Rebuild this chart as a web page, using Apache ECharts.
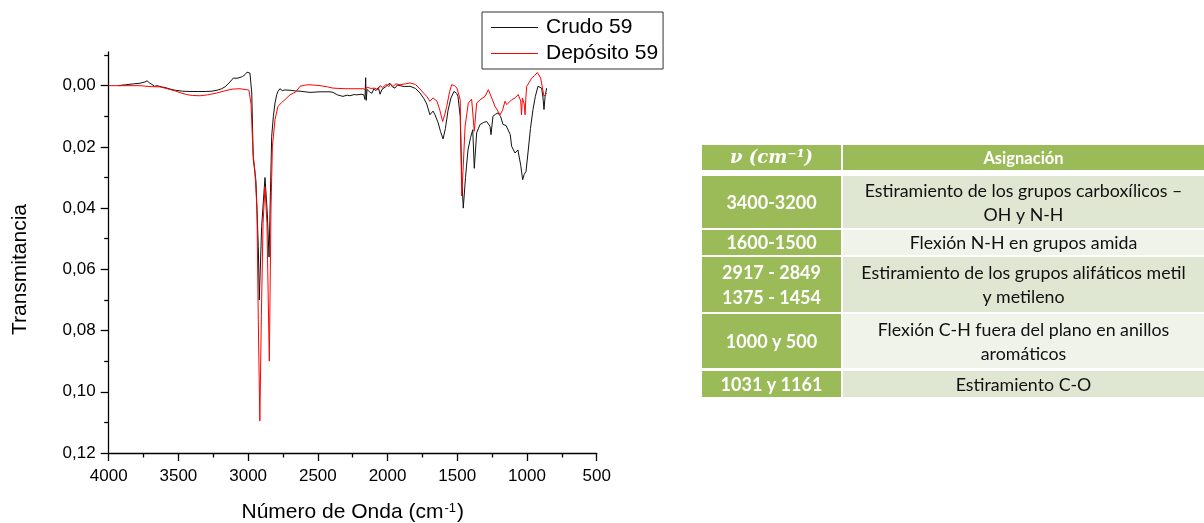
<!DOCTYPE html>
<html>
<head>
<meta charset="utf-8">
<script src="https://cdn.jsdelivr.net/npm/echarts@6.0.0/dist/echarts.min.js"></script>
<style>
  html, body { margin: 0; padding: 0; background: #fff; }
  #main { width: 1204px; height: 523px; }
</style>
</head>
<body>
<div id="main"></div>
<script>
// espectro IR: [número de onda, transmitancia]
var crudo59 = [
  [3933,0.0000],[3880,-0.0003],[3820,-0.0006],[3776,-0.0008],[3740,-0.0012],[3725,-0.0016],[3705,-0.0008],
  [3690,-0.0004],[3670,0.0002],[3654,0.0000],[3620,0.0004],[3596,0.0006],[3560,0.0011],[3524,0.0015],
  [3470,0.0018],[3417,0.0019],[3360,0.0019],[3309,0.0019],[3260,0.0018],[3223,0.0015],[3190,0.0010],
  [3166,0.0004],[3130,-0.0012],[3106,-0.0025],[3080,-0.0024],[3058,-0.0027],[3040,-0.0030],[3022,-0.0036],
  [3008,-0.0044],[2999,-0.0050],[2987,-0.0041],[2974,0.0024],[2963,0.0240],[2944,0.0310],[2927,0.0525],
  [2920,0.0700],[2903,0.0460],[2879,0.0300],[2862,0.0420],[2850,0.0560],[2840,0.0350],[2831,0.0165],
  [2819,0.0100],[2807,0.0056],[2795,0.0030],[2786,0.0019],[2772,0.0010],[2755,0.0016],[2736,0.0014],
  [2700,0.0015],[2660,0.0017],[2628,0.0018],[2556,0.0022],[2484,0.0020],[2413,0.0020],[2391,0.0022],
  [2360,0.0030],[2320,0.0035],[2290,0.0031],[2270,0.0033],[2240,0.0029],[2220,0.0030],[2190,0.0028],
  [2170,0.0030],[2162,0.0045],[2157,-0.0026],[2153,0.0048],[2147,0.0012],[2130,0.0020],[2112,0.0025],
  [2098,0.0010],[2083,0.0016],[2066,0.0006],[2054,0.0028],[2040,0.0012],[2018,0.0005],[2000,-0.0002],
  [1983,-0.0008],[1965,0.0004],[1947,0.0008],[1930,-0.0002],[1911,0.0000],[1880,0.0003],[1839,0.0002],
  [1800,0.0009],[1767,0.0024],[1740,0.0042],[1719,0.0060],[1696,0.0095],[1674,0.0083],[1660,0.0095],
  [1638,0.0120],[1620,0.0150],[1602,0.0174],[1585,0.0140],[1566,0.0080],[1545,0.0040],[1524,0.0019],
  [1505,0.0025],[1495,0.0035],[1479,0.0100],[1468,0.0300],[1457,0.0400],[1441,0.0300],[1423,0.0210],
  [1405,0.0170],[1389,0.0144],[1378,0.0270],[1361,0.0154],[1337,0.0127],[1310,0.0120],[1289,0.0117],
  [1265,0.0133],[1258,0.0160],[1244,0.0100],[1225,0.0093],[1208,0.0089],[1190,0.0100],[1172,0.0127],
  [1150,0.0130],[1136,0.0133],[1120,0.0160],[1110,0.0198],[1086,0.0220],[1065,0.0210],[1045,0.0260],
  [1031,0.0307],[1020,0.0290],[1007,0.0280],[993,0.0220],[975,0.0140],[957,0.0078],[940,0.0035],
  [921,0.0002],[908,0.0004],[895,0.0008],[885,0.0040],[878,0.0078],[870,0.0035],[859,0.0008]
];
var deposito59 = [
  [4000,0.0000],[3900,0.0000],[3776,0.0000],[3704,0.0003],[3632,0.0004],[3580,0.0010],[3524,0.0017],
  [3480,0.0024],[3441,0.0029],[3400,0.0032],[3345,0.0033],[3290,0.0030],[3225,0.0024],[3160,0.0016],
  [3109,0.0011],[3058,0.0010],[3030,0.0012],[3010,0.0013],[2994,0.0015],[2979,0.0060],[2965,0.0220],
  [2951,0.0280],[2937,0.0400],[2927,0.0770],[2916,0.1095],[2905,0.0750],[2893,0.0450],[2879,0.0330],
  [2865,0.0450],[2848,0.0900],[2836,0.0400],[2826,0.0200],[2807,0.0110],[2786,0.0068],[2760,0.0055],
  [2736,0.0046],[2700,0.0030],[2657,0.0020],[2628,0.0002],[2590,-0.0002],[2556,-0.0003],[2484,0.0000],
  [2430,0.0004],[2391,0.0008],[2305,0.0010],[2240,0.0010],[2176,0.0010],[2160,0.0012],[2147,0.0005],
  [2120,0.0009],[2090,0.0008],[2070,0.0014],[2054,0.0000],[2035,0.0006],[2010,-0.0004],[1990,0.0003],
  [1983,-0.0005],[1960,0.0002],[1940,-0.0006],[1911,-0.0003],[1870,-0.0006],[1839,-0.0009],[1800,-0.0004],
  [1767,0.0011],[1740,0.0025],[1719,0.0035],[1696,0.0051],[1674,0.0040],[1645,0.0051],[1625,0.0080],
  [1605,0.0117],[1590,0.0095],[1576,0.0068],[1555,0.0020],[1540,-0.0003],[1520,0.0000],[1502,0.0008],
  [1479,0.0046],[1468,0.0360],[1459,0.0280],[1444,0.0133],[1421,0.0057],[1397,0.0044],[1378,0.0149],
  [1361,0.0057],[1337,0.0046],[1301,0.0035],[1277,0.0013],[1253,0.0040],[1229,0.0068],[1193,0.0095],
  [1175,0.0080],[1158,0.0051],[1145,0.0062],[1134,0.0062],[1110,0.0046],[1085,0.0040],[1063,0.0029],
  [1045,0.0050],[1039,0.0095],[1033,0.0040],[1027,0.0035],[1020,0.0060],[1014,0.0095],[1008,0.0040],
  [1002,0.0002],[985,-0.0010],[966,-0.0025],[945,-0.0033],[926,-0.0043],[915,-0.0038],[902,-0.0025],
  [890,0.0005],[878,0.0035],[868,0.0030],[859,0.0024]
];
var seriesNames = ['Crudo 59', 'Depósito 59'];
var yTicks = [0, 0.02, 0.04, 0.06, 0.08, 0.10, 0.12];
var yMinorTicks = [-0.01, 0.01, 0.03, 0.05, 0.07, 0.09, 0.11];

// tabla de asignaciones
var tableHeader = ['ν (cm⁻¹)', 'Asignación'];
var bandRanges = ['3400-3200', '1600-1500', '2917 - 2849\n1375 - 1454', '1000 y 500', '1031 y 1161'];
var bandAssignments = [
  'Estiramiento de los grupos carboxílicos –\nOH y N-H',
  'Flexión N-H en grupos amida',
  'Estiramiento de los grupos alifáticos metil\ny metileno',
  'Flexión C-H fuera del plano en anillos\naromáticos',
  'Estiramiento C-O'
];

var chart = echarts.init(document.getElementById('main'));
var FONT = 'Liberation Sans, Arial, sans-serif';
var TFONT = 'Lato, Carlito, sans-serif';
var GREEN = '#9bbb59';

// geometria de la tabla
var colX = [702, 843], colW = [139, 361];
var headTop = 145, headH = 25;
var rowTops = [176, 230, 257, 314, 371], rowHs = [52, 25, 55, 54, 26];
var rowFill = ['#dfe7d2', '#eff3ea'];

var graphics = [];
for (var c = 0; c < 2; c++) {
  graphics.push({ type: 'rect', shape: { x: colX[c], y: headTop, width: colW[c], height: headH }, style: { fill: GREEN } });
  graphics.push({
    type: 'text', x: colX[c] + colW[c] / 2, y: headTop + headH / 2 + 1,
    style: {
      text: tableHeader[c], fill: '#fff', align: 'center', verticalAlign: 'middle',
      fontSize: c === 0 ? 18 : 16.5, fontWeight: 'bold',
      fontStyle: c === 0 ? 'italic' : 'normal',
      fontFamily: c === 0 ? 'DejaVu Serif, serif' : TFONT
    }
  });
}
for (var r = 0; r < bandRanges.length; r++) {
  var cy = rowTops[r] + rowHs[r] / 2 + 1;
  graphics.push({ type: 'rect', shape: { x: colX[0], y: rowTops[r], width: colW[0], height: rowHs[r] }, style: { fill: GREEN } });
  graphics.push({ type: 'rect', shape: { x: colX[1], y: rowTops[r], width: colW[1], height: rowHs[r] }, style: { fill: rowFill[r % 2] } });
  graphics.push({
    type: 'text', x: colX[0] + colW[0] / 2, y: cy,
    style: { text: bandRanges[r], fill: '#fff', align: 'center', verticalAlign: 'middle',
      fontSize: 18, fontWeight: 'bold', fontFamily: TFONT, lineHeight: 25 }
  });
  graphics.push({
    type: 'text', x: colX[1] + colW[1] / 2, y: cy,
    style: { text: bandAssignments[r], fill: '#111', align: 'center', verticalAlign: 'middle',
      fontSize: 17.8, fontFamily: TFONT, lineHeight: 24 }
  });
}

var option = {
  backgroundColor: '#fff',
  animation: false,
  grid: { left: 108.7, top: 52, width: 488, height: 401, containLabel: false, outerBoundsMode: 'none' },
  legend: {
    data: seriesNames,
    orient: 'vertical',
    left: 482, top: 12,
    padding: [5, 5, 5, 9],
    itemGap: 5,
    icon: 'rect',
    itemWidth: 47, itemHeight: 1.2,
    backgroundColor: '#fff',
    borderColor: '#333', borderWidth: 1,
    textStyle: { fontFamily: FONT, fontSize: 21, color: '#000', lineHeight: 21, padding: [0, 0, 0, 3] }
  },
  xAxis: {
    type: 'value', min: 500, max: 4000, interval: 500, inverse: true,
    name: 'Número de Onda (cm{sup|-1})', nameLocation: 'middle', nameGap: 49,
    nameTextStyle: {
      fontFamily: FONT, fontSize: 21, color: '#000',
      rich: { sup: { fontFamily: FONT, fontSize: 13, color: '#000', verticalAlign: 'top', padding: [0, 1, 8, 1] } }
    },
    axisLine: { show: true, onZero: false, lineStyle: { color: '#000', width: 1.3 } },
    axisTick: { show: true, inside: false, length: 8, lineStyle: { color: '#000', width: 1.3 } },
    minorTick: { show: true, splitNumber: 2, length: 4.5, lineStyle: { color: '#000', width: 1.3 } },
    axisLabel: {
      fontFamily: FONT, fontSize: 17, color: '#000', margin: 15,
      formatter: function (v) { return String(v); }
    },
    splitLine: { show: false }
  },
  yAxis: [{
    type: 'value', min: -0.011, max: 0.12, inverse: true,
    name: 'Transmitancia', nameLocation: 'middle', nameGap: 78,
    nameTextStyle: { fontFamily: FONT, fontSize: 21, color: '#000', padding: [0, 34, 0, 0] },
    axisLine: { show: true, onZero: false, lineStyle: { color: '#000', width: 1.3 } },
    axisTick: { show: true, inside: false, length: 8, customValues: yTicks, lineStyle: { color: '#000', width: 1.3 } },
    axisLabel: {
      fontFamily: FONT, fontSize: 17, color: '#000', margin: 13, customValues: yTicks,
      formatter: function (v) { return v.toFixed(2).replace('.', ','); }
    },
    splitLine: { show: false }
  }, {
    type: 'value', min: -0.011, max: 0.12, inverse: true, position: 'left',
    axisLine: { show: false, onZero: false },
    axisTick: { show: true, inside: false, length: 4.5, customValues: yMinorTicks, lineStyle: { color: '#000', width: 1.3 } },
    axisLabel: { show: false, customValues: yMinorTicks },
    splitLine: { show: false }
  }],
  series: [{
    name: seriesNames[0], type: 'line', data: crudo59, symbol: 'none', showSymbol: false,
    lineStyle: { color: '#111', width: 1 }, itemStyle: { color: '#111' }
  }, {
    name: seriesNames[1], type: 'line', data: deposito59, symbol: 'none', showSymbol: false,
    lineStyle: { color: '#ff0000', width: 1 }, itemStyle: { color: '#ff0000' }
  }],
  graphic: graphics
};
chart.setOption(option);
</script>
</body>
</html>
